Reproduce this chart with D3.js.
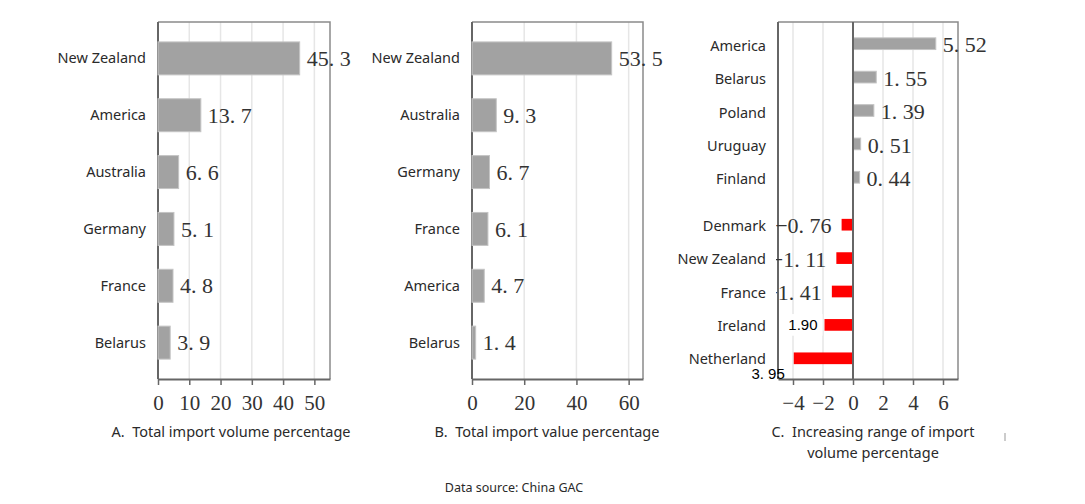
<!DOCTYPE html>
<html>
<head>
<meta charset="utf-8">
<script src="https://cdn.jsdelivr.net/npm/d3@7"></script>
<style>
  body { margin: 0; background: #fff; }
  text { white-space: pre; }
</style>
</head>
<body>
<div class="chart"></div>
<script>
const width = 1085;
const height = 504;

// A. total import volume share (%)
const volCountries = ["New Zealand", "America", "Australia", "Germany", "France", "Belarus"];
const volValues = [45.3, 13.7, 6.6, 5.1, 4.8, 3.9];
const volTicks = [0, 10, 20, 30, 40, 50];

// B. total import value share (%)
const valCountries = ["New Zealand", "Australia", "Germany", "France", "America", "Belarus"];
const valValues = [53.5, 9.3, 6.7, 6.1, 4.7, 1.4];
const valTicks = [0, 20, 40, 60];

// C. change in import volume share
const upCountries = ["America", "Belarus", "Poland", "Uruguay", "Finland"];
const upValues = [5.52, 1.55, 1.39, 0.51, 0.44];
const downCountries = ["Denmark", "New Zealand", "France", "Ireland", "Netherland"];
const downValues = [-0.76, -1.11, -1.41, -1.90, -3.95];
const rangeTicks = [-4, -2, 0, 2, 4, 6];

const serif = "'Liberation Serif', 'DejaVu Serif', serif";
const sans = "'Noto Sans', 'Open Sans', sans-serif";
const plotTop = 22, plotBottom = 379;

let svg = d3.select(".chart")
    .append("svg")
    .attr("width", width)
    .attr("height", height);

function fmt(v, digits) {
    return v.toFixed(digits).replace(".", ". ").replace("-", "\u2212");
}

function frame(x, ticks) {
    let g = svg.append("g");
    let [x0, x1] = x.range();
    g.selectAll("line.grid")
        .data(ticks.filter(t => x(t) > x0 + 2))
        .enter()
        .append("line")
        .attr("x1", d => x(d)).attr("x2", d => x(d))
        .attr("y1", plotTop).attr("y2", plotBottom)
        .attr("stroke", "#e6e6e6")
        .attr("stroke-width", 1.5);
    // top + right border
    g.append("path")
        .attr("d", `M${x0},${plotTop}H${x1}V${plotBottom}`)
        .attr("fill", "none")
        .attr("stroke", "#8a8a8a")
        .attr("stroke-width", 1.5);
    // left axis
    g.append("line")
        .attr("x1", x0).attr("x2", x0).attr("y1", plotTop).attr("y2", plotBottom)
        .attr("stroke", "#666").attr("stroke-width", 2);

    let axis = g.append("g")
        .attr("transform", `translate(0,${plotBottom})`)
        .call(d3.axisBottom(x).tickValues(ticks).tickSize(6).tickSizeOuter(0)
            .tickFormat(d => String(d).replace("-", "\u2212")));
    axis.select(".domain").attr("stroke", "#666").attr("stroke-width", 2);
    axis.selectAll(".tick line").attr("stroke", "#666").attr("stroke-width", 1.5);
    axis.selectAll(".tick text")
        .attr("y", 16)
        .attr("dy", "0.71em")
        .attr("fill", "#333")
        .style("font-family", serif)
        .style("font-size", "21px");
    return g;
}

function catLabels(y, names, xEnd, shift, maskTo) {
    let g = svg.append("g");
    let t = g.selectAll("text")
        .data(names)
        .enter()
        .append("text")
        .attr("x", xEnd)
        .attr("y", d => y(d) + y.bandwidth() / 2 + shift)
        .attr("dy", "0.35em")
        .attr("text-anchor", "end")
        .attr("fill", "#2a2a2a")
        .style("font-family", sans)
        .style("font-size", "14.5px")
        .text(d => d);
    // labels in panel C sit on white boxes that hide what is under them
    if (maskTo) {
        t.each(function() {
            let b = this.getBBox();
            g.insert("rect", "text")
                .attr("x", b.x - 2).attr("y", b.y)
                .attr("width", maskTo - b.x + 2).attr("height", b.height)
                .attr("fill", "#fff");
        });
    }
}

function shareChart(names, values, ticks, left, right, maxX, title, titleX) {
    let x = d3.scaleLinear().domain([0, maxX]).range([left, right]);
    let y = d3.scaleBand().domain(names).range([plotTop, plotBottom]).paddingInner(0.42).paddingOuter(0.35);
    frame(x, ticks);

    let data = names.map((n, i) => ({ name: n, value: values[i] }));
    svg.append("g").selectAll("rect")
        .data(data)
        .enter()
        .append("rect")
        .attr("x", x(0))
        .attr("y", d => y(d.name))
        .attr("width", d => x(d.value) - x(0))
        .attr("height", y.bandwidth())
        .attr("fill", "#a2a2a2")
        .attr("stroke", "#c4c4c4");

    svg.append("g").selectAll("text")
        .data(data)
        .enter()
        .append("text")
        .attr("x", d => x(d.value) + 7)
        .attr("y", d => y(d.name) + y.bandwidth() / 2)
        .attr("dy", "0.35em")
        .attr("fill", "#333")
        .style("font-family", serif)
        .style("font-size", "22px")
        .text(d => fmt(d.value, 1));

    catLabels(y, names, left - 12, 0);

    svg.append("text")
        .attr("x", titleX).attr("y", 437)
        .attr("text-anchor", "middle")
        .attr("fill", "#2a2a2a")
        .style("font-family", sans)
        .style("font-size", "14.5px")
        .text(title);
}

shareChart(volCountries, volValues, volTicks, 158, 330, 55, "A.  Total import volume percentage", 231);
shareChart(valCountries, valValues, valTicks, 472, 643, 65.5, "B.  Total import value percentage", 547);

// panel C
let xc = d3.scaleLinear().domain([-5, 7]).range([778, 958]);
let yUp = d3.scaleBand().domain(upCountries).range([27, 194]).paddingInner(0.65).paddingOuter(0.325);
let yDown = d3.scaleBand().domain(downCountries).range([208, 375]).paddingInner(0.65).paddingOuter(0.325);
frame(xc, rangeTicks);

let upData = upCountries.map((n, i) => ({ name: n, value: upValues[i], y: yUp }));
let downData = downCountries.map((n, i) => ({ name: n, value: downValues[i], y: yDown }));
let cData = upData.concat(downData);

svg.append("g").selectAll("rect")
    .data(cData)
    .enter()
    .append("rect")
    .attr("x", d => xc(Math.min(0, d.value)))
    .attr("y", d => d.y(d.name))
    .attr("width", d => Math.abs(xc(d.value) - xc(0)))
    .attr("height", d => d.y.bandwidth())
    .attr("fill", d => d.value < 0 ? "#ff0000" : "#a2a2a2")
    .attr("stroke", d => d.value < 0 ? "none" : "#c4c4c4");

// zero line over bars
svg.append("line")
    .attr("x1", xc(0)).attr("x2", xc(0)).attr("y1", plotTop).attr("y2", plotBottom)
    .attr("stroke", "#666").attr("stroke-width", 2);

// value labels (the last two were pasted over in the source image)
let plainLabels = cData.filter(d => d.name !== "Ireland" && d.name !== "Netherland");
svg.append("g").selectAll("text")
    .data(plainLabels)
    .enter()
    .append("text")
    .attr("x", d => d.value < 0 ? xc(d.value) - 10 : xc(d.value) + 7)
    .attr("y", d => d.y(d.name) + d.y.bandwidth() / 2 + 1)
    .attr("dy", "0.35em")
    .attr("text-anchor", d => d.value < 0 ? "end" : "start")
    .attr("fill", "#333")
    .style("font-family", serif)
    .style("font-size", "22px")
    .text(d => fmt(d.value, 2));

let ire = downData[3], neth = downData[4];
svg.append("rect")
    .attr("x", 781).attr("y", yDown(ire.name) - 5)
    .attr("width", xc(ire.value) - 783).attr("height", yDown.bandwidth() + 10)
    .attr("fill", "#fff");
svg.append("text")
    .attr("x", xc(ire.value) - 7)
    .attr("y", yDown(ire.name) + yDown.bandwidth() / 2)
    .attr("dy", "0.35em")
    .attr("text-anchor", "end")
    .attr("fill", "#000")
    .style("font-family", "'Liberation Sans', Arial, sans-serif")
    .style("font-size", "15px")
    .text(Math.abs(ire.value).toFixed(2));
svg.append("text")
    .attr("x", xc(neth.value) - 9)
    .attr("y", yDown(neth.name) + yDown.bandwidth() / 2 + 21)
    .attr("text-anchor", "end")
    .attr("fill", "#000")
    .style("font-family", "'Liberation Sans', Arial, sans-serif")
    .style("font-size", "15px")
    .text(fmt(Math.abs(neth.value), 2));

catLabels(yUp, upCountries, 766, 2);
catLabels(yDown, downCountries, 766, 1, 776);

svg.append("text")
    .attr("x", 873).attr("y", 437)
    .attr("text-anchor", "middle")
    .attr("fill", "#2a2a2a")
    .style("font-family", sans)
    .style("font-size", "14.5px")
    .text("C.  Increasing range of import");
svg.append("text")
    .attr("x", 873).attr("y", 458)
    .attr("text-anchor", "middle")
    .attr("fill", "#2a2a2a")
    .style("font-family", sans)
    .style("font-size", "14.5px")
    .text("volume percentage");

svg.append("line")
    .attr("x1", 1005).attr("x2", 1005).attr("y1", 433).attr("y2", 441)
    .attr("stroke", "#999");

svg.append("text")
    .attr("x", 514).attr("y", 492)
    .attr("text-anchor", "middle")
    .attr("fill", "#2a2a2a")
    .style("font-family", sans)
    .style("font-size", "12.5px")
    .text("Data source: China GAC");
</script>
</body>
</html>
